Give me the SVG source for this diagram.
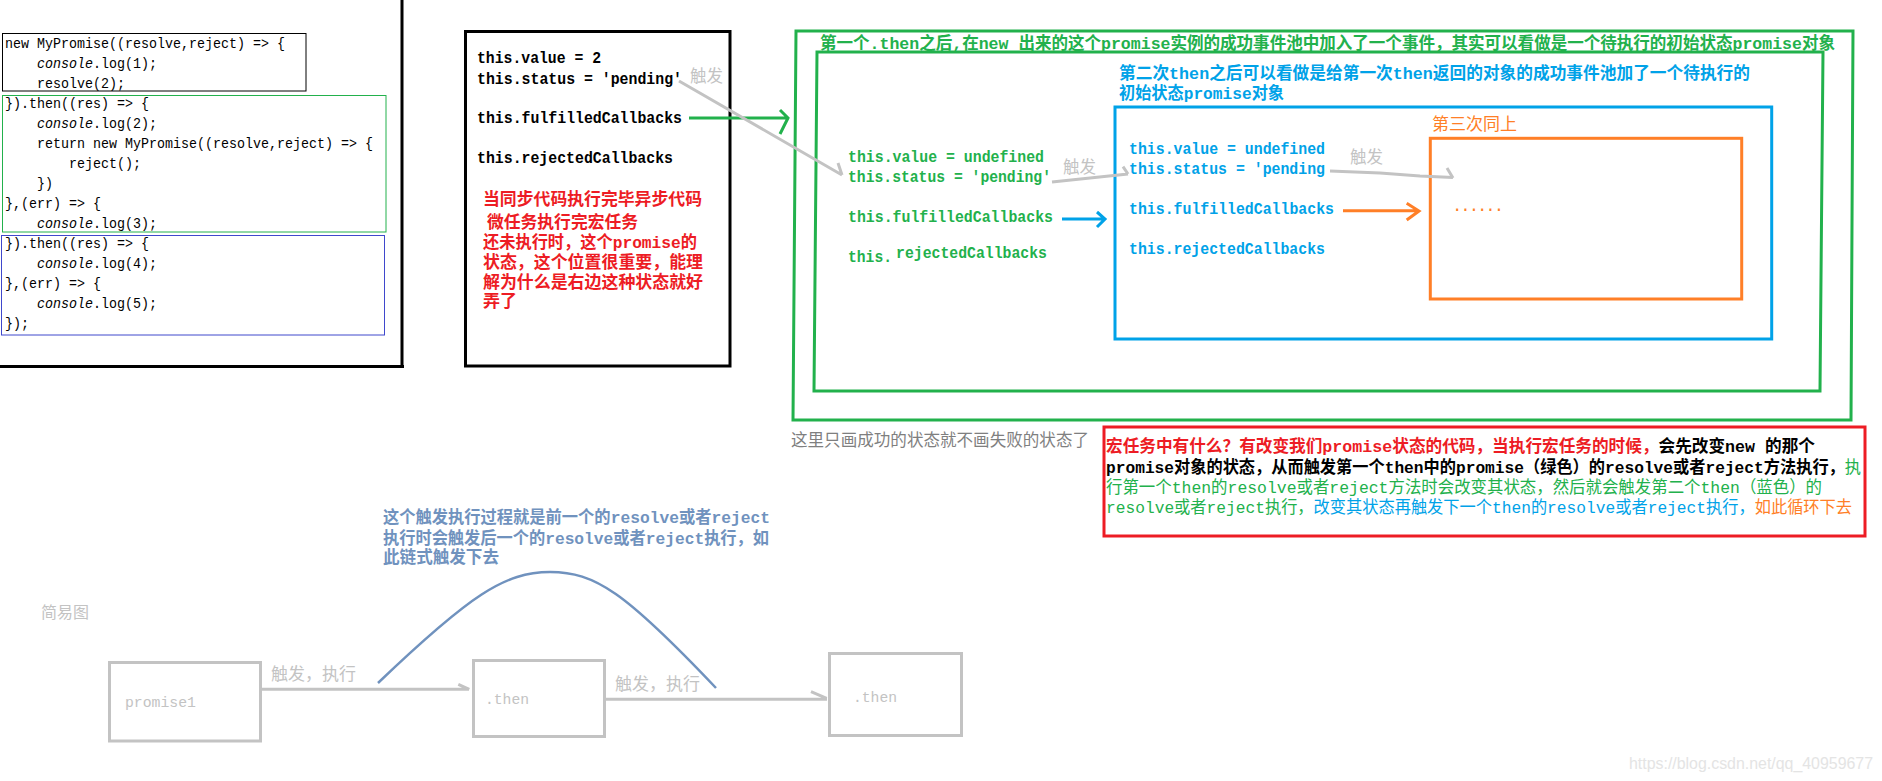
<svg xmlns="http://www.w3.org/2000/svg" width="1882" height="781" viewBox="0 0 1882 781">
<style>
text { font-family: "Liberation Mono", "Noto Sans CJK SC", monospace; }
.code { font-size: 15.5px; fill: #000; }
.it { font-style: italic; }
.b { font-weight: bold; }
.st { font-size: 16px; font-weight: bold; }
.cj { font-size: 17px; }
.gray { fill: #c3c3c3; }
.red { fill: #ed1c24; }
.grn { fill: #22b14c; }
.blu { fill: #00a2e8; }
.org { fill: #ff7f27; }
.blk { fill: #000; }
.box { fill: none; stroke-width: 3; }
.conn { fill: none; stroke-width: 3; }
</style>
<rect x="0" y="0" width="1882" height="781" fill="#fff"/>

<g id="code-panel">
  <path d="M402,0 V367.5 M0,366.5 H404" fill="none" stroke="#000" stroke-width="3"/>
  <rect x="2.5" y="33.5" width="303.5" height="57.5" fill="none" stroke="#000" stroke-width="1"/>
  <rect x="2.5" y="95.5" width="383.5" height="136.5" fill="none" stroke="#22b14c" stroke-width="1"/>
  <rect x="1.5" y="235.5" width="383" height="99.5" fill="none" stroke="#3f48cc" stroke-width="1"/>
  <g class="code">
    <text x="5" y="48" textLength="280" lengthAdjust="spacingAndGlyphs">new MyPromise((resolve,reject) =&gt; {</text>
    <text x="37" y="68" textLength="120" lengthAdjust="spacingAndGlyphs"><tspan class="it">console</tspan>.log(1);</text>
    <text x="37" y="88" textLength="88" lengthAdjust="spacingAndGlyphs">resolve(2);</text>
    <text x="5" y="108" textLength="144" lengthAdjust="spacingAndGlyphs">}).then((res) =&gt; {</text>
    <text x="37" y="128" textLength="120" lengthAdjust="spacingAndGlyphs"><tspan class="it">console</tspan>.log(2);</text>
    <text x="37" y="148" textLength="336" lengthAdjust="spacingAndGlyphs">return new MyPromise((resolve,reject) =&gt; {</text>
    <text x="69" y="168" textLength="72" lengthAdjust="spacingAndGlyphs">reject();</text>
    <text x="37" y="188" textLength="16" lengthAdjust="spacingAndGlyphs">})</text>
    <text x="5" y="208" textLength="96" lengthAdjust="spacingAndGlyphs">},(err) =&gt; {</text>
    <text x="37" y="228" textLength="120" lengthAdjust="spacingAndGlyphs"><tspan class="it">console</tspan>.log(3);</text>
    <text x="5" y="248" textLength="144" lengthAdjust="spacingAndGlyphs">}).then((res) =&gt; {</text>
    <text x="37" y="268" textLength="120" lengthAdjust="spacingAndGlyphs"><tspan class="it">console</tspan>.log(4);</text>
    <text x="5" y="288" textLength="96" lengthAdjust="spacingAndGlyphs">},(err) =&gt; {</text>
    <text x="37" y="308" textLength="120" lengthAdjust="spacingAndGlyphs"><tspan class="it">console</tspan>.log(5);</text>
    <text x="5" y="328" textLength="24" lengthAdjust="spacingAndGlyphs">});</text>
  </g>
</g>

<g id="state-panel">
  <rect x="465.5" y="31.5" width="264.5" height="334.5" class="box" stroke="#000"/>
  <g class="st blk">
    <text x="477" y="63" textLength="124" lengthAdjust="spacingAndGlyphs">this.value = 2</text>
    <text x="477" y="84" textLength="205" lengthAdjust="spacingAndGlyphs">this.status = 'pending'</text>
    <text x="477" y="123" textLength="205" lengthAdjust="spacingAndGlyphs">this.fulfilledCallbacks</text>
    <text x="477" y="163" textLength="196" lengthAdjust="spacingAndGlyphs">this.rejectedCallbacks</text>
  </g>
  <g class="cj b red">
    <text x="483" y="205" textLength="219" lengthAdjust="spacingAndGlyphs">当同步代码执行完毕异步代码</text>
    <text x="487" y="228" textLength="151" lengthAdjust="spacingAndGlyphs">微任务执行完宏任务</text>
    <text x="483" y="248" textLength="214" lengthAdjust="spacingAndGlyphs">还未执行时，这个promise的</text>
    <text x="483" y="268" textLength="220" lengthAdjust="spacingAndGlyphs">状态，这个位置很重要，能理</text>
    <text x="483" y="288" textLength="220" lengthAdjust="spacingAndGlyphs">解为什么是右边这种状态就好</text>
    <text x="483" y="307">弄了</text>
  </g>
  <text x="690" y="82" class="gray" font-size="16.5">触发</text>
</g>

<g id="first-then">
  <polygon points="796,31 1853,31 1851,420 793,420" class="box" stroke="#22b14c"/>
  <text x="820" y="49" class="cj b grn" textLength="1015" lengthAdjust="spacingAndGlyphs">第一个.then之后,在new 出来的这个promise实例的成功事件池中加入了一个事件，其实可以看做是一个待执行的初始状态promise对象</text>
  <polygon points="817,52 1823,52 1820,391 814,391" class="box" stroke="#22b14c"/>
  <g class="st grn">
    <text x="848" y="162" textLength="196" lengthAdjust="spacingAndGlyphs">this.value = undefined</text>
    <text x="848" y="182" textLength="203" lengthAdjust="spacingAndGlyphs">this.status = 'pending'</text>
    <text x="848" y="222" textLength="205" lengthAdjust="spacingAndGlyphs">this.fulfilledCallbacks</text>
    <text x="848" y="262" textLength="44" lengthAdjust="spacingAndGlyphs">this.</text>
    <text x="896" y="258" textLength="151" lengthAdjust="spacingAndGlyphs">rejectedCallbacks</text>
  </g>
  <text x="1063" y="173" class="gray" font-size="16.5">触发</text>
</g>

<g id="second-then">
  <text x="1119" y="79" class="cj b blu" textLength="631" lengthAdjust="spacingAndGlyphs">第二次then之后可以看做是给第一次then返回的对象的成功事件池加了一个待执行的</text>
  <text x="1119" y="99" class="cj b blu" textLength="165" lengthAdjust="spacingAndGlyphs">初始状态promise对象</text>
  <rect x="1115" y="107" width="656.7" height="232" class="box" stroke="#00a2e8"/>
  <g class="st blu">
    <text x="1129" y="154" textLength="196" lengthAdjust="spacingAndGlyphs">this.value = undefined</text>
    <text x="1129" y="174" textLength="196" lengthAdjust="spacingAndGlyphs">this.status = 'pending</text>
    <text x="1129" y="214" textLength="205" lengthAdjust="spacingAndGlyphs">this.fulfilledCallbacks</text>
    <text x="1129" y="254" textLength="196" lengthAdjust="spacingAndGlyphs">this.rejectedCallbacks</text>
  </g>
  <text x="1350" y="163" class="gray" font-size="16.5">触发</text>
</g>

<g id="third-then">
  <text x="1432" y="130" class="cj org">第三次同上</text>
  <rect x="1430.3" y="138.3" width="311.4" height="160.7" class="box" stroke="#ff7f27"/>
  <text x="1453" y="211" class="org b" font-size="16" textLength="50" lengthAdjust="spacingAndGlyphs">......</text>
</g>

<g id="note-gray">
  <text x="791" y="446" font-size="16.5" fill="#7f7f7f" textLength="298" lengthAdjust="spacingAndGlyphs">这里只画成功的状态就不画失败的状态了</text>
</g>

<g id="macro-task-note">
  <rect x="1104" y="427" width="761" height="109" class="box" stroke="#ed1c24"/>
  <g class="cj">
    <text x="1106" y="452" textLength="709" lengthAdjust="spacingAndGlyphs"><tspan class="red b">宏任务中有什么？有改变我们promise状态的代码，当执行宏任务的时候，</tspan><tspan class="blk b">会先改变new 的那个</tspan></text>
    <text x="1106" y="473" textLength="755" lengthAdjust="spacingAndGlyphs"><tspan class="blk b">promise对象的状态，从而触发第一个then中的promise（绿色）的resolve或者reject方法执行，</tspan><tspan class="grn">执</tspan></text>
    <text x="1106" y="493" textLength="716" lengthAdjust="spacingAndGlyphs" class="grn">行第一个then的resolve或者reject方法时会改变其状态，然后就会触发第二个then（蓝色）的</text>
    <text x="1106" y="513" textLength="746" lengthAdjust="spacingAndGlyphs"><tspan class="grn">resolve或者reject执行，</tspan><tspan class="blu">改变其状态再触发下一个then的resolve或者reject执行，</tspan><tspan class="org">如此循环下去</tspan></text>
  </g>
</g>

<g id="simple-title">
  <text x="41" y="618" class="gray" font-size="16">简易图</text>
</g>

<g id="arc-note">
  <g class="cj b" fill="#7092be">
    <text x="383" y="523" textLength="387" lengthAdjust="spacingAndGlyphs">这个触发执行过程就是前一个的resolve或者reject</text>
    <text x="383" y="544" textLength="386" lengthAdjust="spacingAndGlyphs">执行时会触发后一个的resolve或者reject执行，如</text>
    <text x="383" y="563" textLength="116" lengthAdjust="spacingAndGlyphs">此链式触发下去</text>
  </g>
</g>

<g id="promise1">
  <rect x="109.5" y="662.5" width="151" height="78.5" class="box" stroke="#c3c3c3"/>
  <text x="125" y="707" class="gray" font-size="15" textLength="71" lengthAdjust="spacingAndGlyphs">promise1</text>
</g>
<g id="then1">
  <rect x="473.5" y="660.5" width="131" height="76" class="box" stroke="#c3c3c3"/>
  <text x="485" y="704" class="gray" font-size="15" textLength="44" lengthAdjust="spacingAndGlyphs">.then</text>
</g>
<g id="then2">
  <rect x="829.5" y="653.5" width="132" height="82" class="box" stroke="#c3c3c3"/>
  <text x="853" y="702" class="gray" font-size="15" textLength="44" lengthAdjust="spacingAndGlyphs">.then</text>
</g>

<g id="connectors">
  <!-- green: fulfilledCallbacks -> first then -->
  <path d="M689,118 H788 M780,110 L788,118 L780,134" class="conn" stroke="#22b14c"/>
  <!-- gray trigger arrows -->
  <path d="M679,81 L842,175 M838,163 L842,175" class="conn" stroke="#c3c3c3"/>
  <path d="M1052,182 L1128,174 M1123,166.7 L1128,174" class="conn" stroke="#c3c3c3"/>
  <path d="M1330,171 L1380,173 L1420,176 L1453,177.5 M1447,168 L1453,178" class="conn" stroke="#c3c3c3"/>
  <!-- blue arrow -->
  <path d="M1062,219 H1105 M1097,212 L1105,219 L1097,227" class="conn" stroke="#00a2e8"/>
  <!-- orange arrow -->
  <path d="M1343,210.7 H1419 M1406.7,203.3 L1419,211 L1406.7,220" class="conn" stroke="#ff7f27"/>
  <!-- bottom simple diagram -->
  <path d="M262,689.3 H469 M458.3,684.3 L469.3,689.3" class="conn" stroke="#c3c3c3"/>
  <text x="271" y="680" class="gray cj">触发，执行</text>
  <path d="M606,699.3 H827 M811,691.7 L826.7,698.3" class="conn" stroke="#c3c3c3"/>
  <text x="615" y="690" class="gray cj">触发，执行</text>
  <path d="M378,683 C470,595 505,572 550,572 C595,572 625,592 716,688" fill="none" stroke="#7092be" stroke-width="2.5"/>
</g>

<g id="watermark">
  <text x="1629" y="769" font-family="Liberation Sans, sans-serif" style="font-family: 'Liberation Sans', sans-serif" font-size="16" fill="#e4e4e4" textLength="244" lengthAdjust="spacingAndGlyphs">https://blog.csdn.net/qq_40959677</text>
</g>
</svg>
